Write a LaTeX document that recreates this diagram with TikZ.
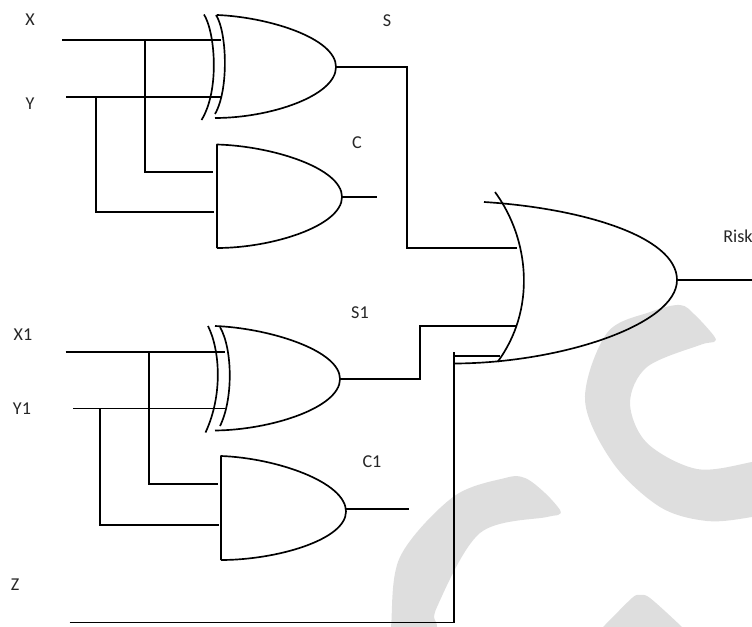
\documentclass[tikz,border=0pt]{standalone}
\usepackage{fontspec}
\setmainfont{Carlito}
\definecolor{wmark}{HTML}{DEDEDE}
\tikzset{
  wire/.style={line width=1.25pt,line cap=butt,line join=miter},
  gateline/.style={line width=1.25pt,line cap=butt,line join=round},
  lbl/.style={inner sep=0pt,font=\fontsize{13.6pt}{16pt}\selectfont,text=black!85},
  wm/.style={fill=wmark,draw=none}
}
\begin{document}
\begin{tikzpicture}[x=0.75pt,y=-0.75pt]
\useasboundingbox (0,0) rectangle (752,627);
\clip (0,0) rectangle (752,627);
% watermark
\fill[wm] plot[smooth cycle,tension=0.55] coordinates {(790,508)(752,517)(707,521)(660,507)(613,463)(585,400)(607,333)(650,312)(680,305)(695,315)(714,336)(714,342)(700,345)(647,367)(630,403)(647,443)(697,469)(752,462)(790,452)};
\fill[wm] plot[smooth cycle,tension=0.55] coordinates {(389,660)(391,627)(400,557)(453,497)(505,478)(525,478)(545,493)(560,510)(558,515)(547,517)(480,533)(437,607)(437,627)(436,660)};
\fill[wm] plot[smooth cycle,tension=0.5] coordinates {(570,660)(603,627)(632,598)(640,595)(650,598)(682,627)(715,660)};
% pins
\coordinate (xa) at (62,40); \coordinate (xb) at (221,40); \coordinate (xj) at (145,40);
\coordinate (ya) at (66,97); \coordinate (yb) at (221,97); \coordinate (yj) at (96,97);
\coordinate (ca) at (213,172); \coordinate (cb) at (214,212);
\coordinate (xat) at (217,15); \coordinate (xatip) at (336,67); \coordinate (xab) at (215,118);
\coordinate (at) at (217,144.5); \coordinate (atip) at (342,197); \coordinate (ab) at (217,248);
\coordinate (cout) at (377,197);
\coordinate (orin) at (516.5,248); \coordinate (orin2) at (516.5,326); \coordinate (orin3) at (500,356);
\coordinate (ort) at (484,202); \coordinate (ortip) at (677,280); \coordinate (orb) at (455,363.5);
\coordinate (rout) at (752,280);
\coordinate (x1a) at (65.5,352); \coordinate (x1b) at (225,352); \coordinate (x1j) at (149,352);
\coordinate (y1a) at (73,408.5); \coordinate (y1b) at (225,408.5); \coordinate (y1j) at (100,408.5);
\coordinate (c1a) at (217.5,484); \coordinate (c1b) at (218.5,525);
\coordinate (x2t) at (215,326); \coordinate (x2tip) at (340,379); \coordinate (x2b) at (215,430.5);
\coordinate (a2t) at (221,456); \coordinate (a2tip) at (346,511.5); \coordinate (a2b) at (221,560);
\coordinate (c1out) at (408.5,509);
\coordinate (za) at (69.5,622.5); \coordinate (zc) at (454,622.5); \coordinate (zt) at (454,351.5);
% gate 1 XOR
\draw[gateline] (xat) .. controls (268,17) and (336,38) .. (xatip) .. controls (336,96) and (270,118) .. (xab);
\draw[gateline] (216,15) .. controls (227,32) and (229,90) .. (215,114);
\draw[gateline] (204,14.5) .. controls (215,32) and (220,90) .. (201.5,120);
% gate 2 AND
\draw[gateline] (ab) -- (at) .. controls (272,146) and (342,168) .. (atip) .. controls (342,226) and (272,248) .. (ab);
% gate 3 XOR
\draw[gateline] (x2t) .. controls (268,328) and (340,350) .. (x2tip) .. controls (340,408) and (270,430) .. (x2b);
\draw[gateline] (220,327) .. controls (233,350) and (233,400) .. (220,426);
\draw[gateline] (208,326) .. controls (220,350) and (223,395) .. (205.5,432.5);
% gate 4 AND
\draw[gateline] (a2b) -- (a2t) .. controls (276,458) and (346,482) .. (a2tip) .. controls (346,540) and (276,560) .. (a2b);
% big OR
\draw[gateline] (ort) .. controls (580,208) and (677,236) .. (ortip) .. controls (677,325) and (560,363) .. (orb);
\draw[gateline] (495,192) .. controls (530,240) and (536,310) .. (497.5,362);
% wires
\draw[wire] (xa) -- (xb);
\draw[wire] (ya) -- (yb);
\draw[wire] (xj) |- (ca);
\draw[wire] (yj) |- (cb);
\draw[wire] (atip) -- (cout);
\draw[wire] (xatip) -- (407,67) -- (407,248) -- (orin);
\draw[wire] (ortip) -- (rout);
\draw[wire] (x1a) -- (x1b);
\draw[wire] (y1a) -- (y1b);
\draw[wire] (x1j) |- (c1a);
\draw[wire] (y1j) |- (c1b);
\draw[wire] (a2tip |- c1out) -- (c1out);
\draw[wire] (x2tip) -- (420,379) -- (420,326) -- (orin2);
\draw[wire] (za) -- (zc) -- (zt);
\draw[wire] (454,356) -- (orin3);
% labels
\node[lbl] (lx) at (30,20) {X};
\node[lbl] (ly) at (30,104) {Y};
\node[lbl] (ls) at (387,20.5) {S};
\node[lbl] (lc) at (357,143) {C};
\node[lbl,anchor=base west] (lr) at (723,242.5) {Risk};
\node[lbl] (lx1) at (23,335) {X1};
\node[lbl] (ly1) at (22,408.5) {Y1};
\node[lbl] (ls1) at (360,313) {S1};
\node[lbl] (lc1) at (372,462) {C1};
\node[lbl] (lz) at (15,584.5) {Z};
\end{tikzpicture}
\end{document}
